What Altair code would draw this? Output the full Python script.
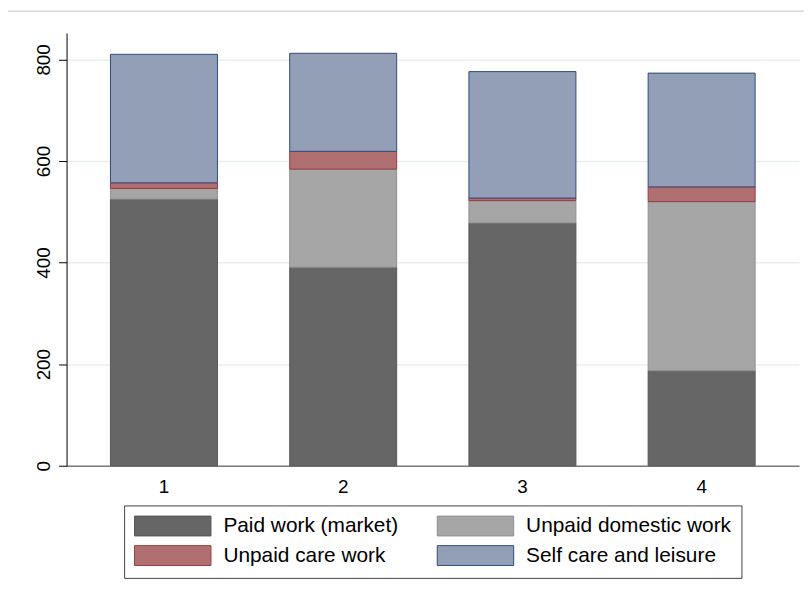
import altair as alt
import pandas as pd

groups = ["1", "2", "3", "4"]
categories = ["Paid work (market)", "Unpaid domestic work", "Unpaid care work", "Self care and leisure"]
paid = [525, 391, 478, 187]
domestic = [21, 193, 44, 333]
care = [11, 35, 5, 29]
selfcare = [253, 193, 249, 224]
y_ticks = [0, 200, 400, 600, 800]

fills = ["#666666", "#a6a6a6", "#b07072", "#939fb6"]
strokes = ["#585858", "#909090", "#9a3a40", "#2f4b80"]

rows = []
for rank, (cat, vals) in enumerate(zip(categories, [paid, domestic, care, selfcare])):
    for g, v in zip(groups, vals):
        rows.append({"group": g, "activity": cat, "minutes": v, "rank": rank})
df = pd.DataFrame(rows)

FONT = "Liberation Sans"
sym_path = "M-1,-1H6.7V1H-1Z"

legend = alt.Legend(
    title=None, orient="none", legendX=58, legendY=476, columns=2, direction="horizontal",
    symbolType=sym_path, symbolSize=400, symbolStrokeWidth=1, symbolOpacity=1,
    labelFontSize=21, labelFont=FONT, labelColor="#000", labelOffset=69, labelLimit=400,
    columnPadding=36, rowPadding=5, padding=10,
    strokeColor="#444444", fillColor="#ffffff",
)

bars = alt.Chart(df).mark_bar(strokeWidth=1, opacity=1).encode(
    x=alt.X("group:N", sort=groups,
            scale=alt.Scale(paddingInner=0.403, paddingOuter=0.245),
            axis=alt.Axis(title=None, labelAngle=0, ticks=False, tickSize=0, labelPadding=12,
                          labelFontSize=19, labelFont=FONT, labelColor="#000",
                          domainColor="#7a7a7a", domainWidth=1.5, grid=False)),
    y=alt.Y("minutes:Q", stack="zero",
            scale=alt.Scale(domain=[0, 852], nice=False, zero=True),
            axis=alt.Axis(title=None, values=y_ticks, labelAngle=270, labelAlign="center",
                          labelBaseline="alphabetic", labelPadding=9, tickSize=8,
                          tickColor="#000", tickWidth=1, domainColor="#000", domainWidth=1,
                          grid=True, gridColor="#e8eff1", gridWidth=1.5,
                          labelFontSize=19, labelFont=FONT, labelColor="#000")),
    color=alt.Color("activity:N", scale=alt.Scale(domain=categories, range=fills), legend=legend),
    stroke=alt.Stroke("activity:N", scale=alt.Scale(domain=categories, range=strokes), legend=legend),
    order=alt.Order("rank:Q"),
)

frame_df = pd.DataFrame({"k": [0]})
frame_left = alt.Chart(frame_df).mark_rule(color="#d6d9d9", strokeWidth=1.5).encode(
    x=alt.value(-60), y=alt.value(-22), y2=alt.value(700))
frame_top = alt.Chart(frame_df).mark_rule(color="#d6d9d9", strokeWidth=1.5).encode(
    x=alt.value(-60), x2=alt.value(900), y=alt.value(-22))

chart = alt.layer(frame_left, frame_top, bars).properties(
    width=738, height=436, autosize="none",
    padding={"left": 59, "top": 23, "right": 5, "bottom": 120},
    background="#ffffff",
).configure_view(stroke=None)

chart.save("out.html", embed_options={"renderer": "svg", "actions": False})
